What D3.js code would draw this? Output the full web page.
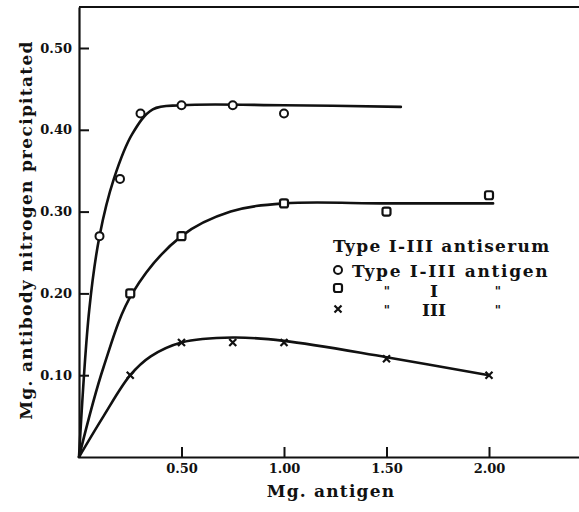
<!DOCTYPE html>
<html>
<head>
<meta charset="utf-8">
<script src="https://cdn.jsdelivr.net/npm/d3@7"></script>
<style>
  body { margin: 0; background: #fff; }
  text { font-family: "DejaVu Serif", serif; font-weight: bold; fill: #111; }
</style>
</head>
<body>
<div id="chart"></div>
<script>

// measured points (mg antigen, mg antibody N)
var circlePts = [[0.1, 0.27], [0.2, 0.34], [0.3, 0.42], [0.5, 0.43], [0.75, 0.43], [1.0, 0.42]];
var squarePts = [[0.25, 0.20], [0.5, 0.27], [1.0, 0.31], [1.5, 0.30], [2.0, 0.32]];
var crossPts  = [[0.25, 0.10], [0.5, 0.14], [0.75, 0.14], [1.0, 0.14], [1.5, 0.12], [2.0, 0.10]];

// hand drawn curves
var circleCurve = [[0, 0], [0.05, 0.18], [0.1, 0.27], [0.17, 0.34], [0.26, 0.395], [0.36, 0.425],
                   [0.5, 0.43], [1.0, 0.43], [1.57, 0.428]];
var squareCurve = [[0, 0], [0.12, 0.11], [0.26, 0.20], [0.5, 0.27], [0.74, 0.30], [1.0, 0.31],
                   [1.5, 0.31], [2.02, 0.31]];
var crossCurve  = [[0, 0], [0.12, 0.05], [0.25, 0.10], [0.35, 0.123], [0.5, 0.14], [0.75, 0.146],
                   [1.0, 0.142], [1.5, 0.122], [2.0, 0.10]];

var xTicks = [0.5, 1.0, 1.5, 2.0];
var yTicks = [0.1, 0.2, 0.3, 0.4, 0.5];

var legendTitle = "Type I-III antiserum";
var legendRows = ["Type I-III antigen", "I", "III"];

var margin = {top: 7, right: 0, bottom: 55, left: 79},
    width = 579 - margin.left - margin.right,
    height = 512 - margin.top - margin.bottom;

var svg = d3.select("#chart")
  .append("svg")
    .attr("width", 579)
    .attr("height", 512)
  .append("g")
    .attr("transform", "translate(" + margin.left + "," + margin.top + ")");

var x = d3.scaleLinear().domain([0, width / 205]).range([0, width]);
var y = d3.scaleLinear().domain([0, height / 818]).range([height, 0]);

// axes
var xAxis = svg.append("g")
  .attr("transform", "translate(0," + height + ")")
  .call(d3.axisBottom(x).tickValues(xTicks).tickFormat(d3.format(".2f"))
        .tickSizeInner(-10).tickSizeOuter(0).tickPadding(7));
var yAxis = svg.append("g")
  .call(d3.axisLeft(y).tickValues(yTicks).tickFormat(d3.format(".2f"))
        .tickSizeInner(-10).tickSizeOuter(0).tickPadding(7));

[xAxis, yAxis].forEach(function(a) {
  a.select(".domain").attr("stroke", "#111").attr("stroke-width", 2.2);
  a.selectAll(".tick line").attr("stroke", "#111").attr("stroke-width", 2);
  a.selectAll(".tick text").style("font-size", "13px").style("font-family", "DejaVu Serif").style("font-weight", "bold");
});

// top frame line
svg.append("line")
  .attr("x1", 0).attr("x2", width)
  .attr("y1", 0).attr("y2", 0)
  .attr("stroke", "#111").attr("stroke-width", 2.2);

// curves
var line = d3.line()
  .x(function(d) { return x(d[0]); })
  .y(function(d) { return y(d[1]); })
  .curve(d3.curveCatmullRom.alpha(0.5));

[circleCurve, squareCurve, crossCurve].forEach(function(c) {
  svg.append("path")
    .datum(c)
    .attr("d", line)
    .attr("fill", "none")
    .attr("stroke", "#111")
    .attr("stroke-width", 2.6)
    .attr("stroke-linecap", "round");
});

// markers
function drawCircle(g, cx, cy) {
  g.append("circle").attr("cx", cx).attr("cy", cy).attr("r", 4)
    .attr("fill", "#fff").attr("stroke", "#111").attr("stroke-width", 2);
}
function drawSquare(g, cx, cy) {
  g.append("rect").attr("x", cx - 4).attr("y", cy - 4).attr("width", 8).attr("height", 8)
    .attr("rx", 2).attr("fill", "#fff").attr("stroke", "#111").attr("stroke-width", 2.2);
}
function drawCross(g, cx, cy) {
  g.append("path").attr("d", "M" + (cx - 3.5) + "," + (cy - 3.5) + "L" + (cx + 3.5) + "," + (cy + 3.5) +
      "M" + (cx + 3.5) + "," + (cy - 3.5) + "L" + (cx - 3.5) + "," + (cy + 3.5))
    .attr("stroke", "#111").attr("stroke-width", 2.2).attr("fill", "none");
}

circlePts.forEach(function(d) { drawCircle(svg, x(d[0]), y(d[1])); });
squarePts.forEach(function(d) { drawSquare(svg, x(d[0]), y(d[1])); });
crossPts.forEach(function(d) { drawCross(svg, x(d[0]), y(d[1])); });

// axis titles
svg.append("text")
  .attr("x", 331 - margin.left)
  .attr("y", 497 - margin.top)
  .attr("text-anchor", "middle")
  .style("font-size", "17px")
  .style("letter-spacing", "1.2px")
  .text("Mg. antigen");

svg.append("text")
  .attr("transform", "translate(" + (32 - margin.left) + "," + (230 - margin.top) + ")rotate(-90)")
  .attr("text-anchor", "middle")
  .style("font-size", "17px")
  .style("letter-spacing", "1.3px")
  .text("Mg. antibody nitrogen precipitated");

// legend
var leg = svg.append("g").attr("transform", "translate(" + (333 - margin.left) + "," + (252 - margin.top) + ")");
leg.append("text").attr("x", 0).attr("y", 0).style("font-size", "17px").style("letter-spacing", "1.3px").text(legendTitle);
drawCircle(leg, 5, 18);
leg.append("text").attr("x", 19).attr("y", 25).style("font-size", "17px").style("letter-spacing", "1.7px").text(legendRows[0]);
drawSquare(leg, 5, 36);
drawCross(leg, 5, 57);
[[1, 45], [2, 64]].forEach(function(r) {
  leg.append("text").attr("x", 101).attr("y", r[1]).attr("text-anchor", "middle").style("font-size", "17px").text(legendRows[r[0]]);
  leg.append("text").attr("x", 54).attr("y", r[1] - 1).attr("text-anchor", "middle").style("font-size", "12px").text("\"");
  leg.append("text").attr("x", 165).attr("y", r[1] - 1).attr("text-anchor", "middle").style("font-size", "12px").text("\"");
});

</script>
</body>
</html>
